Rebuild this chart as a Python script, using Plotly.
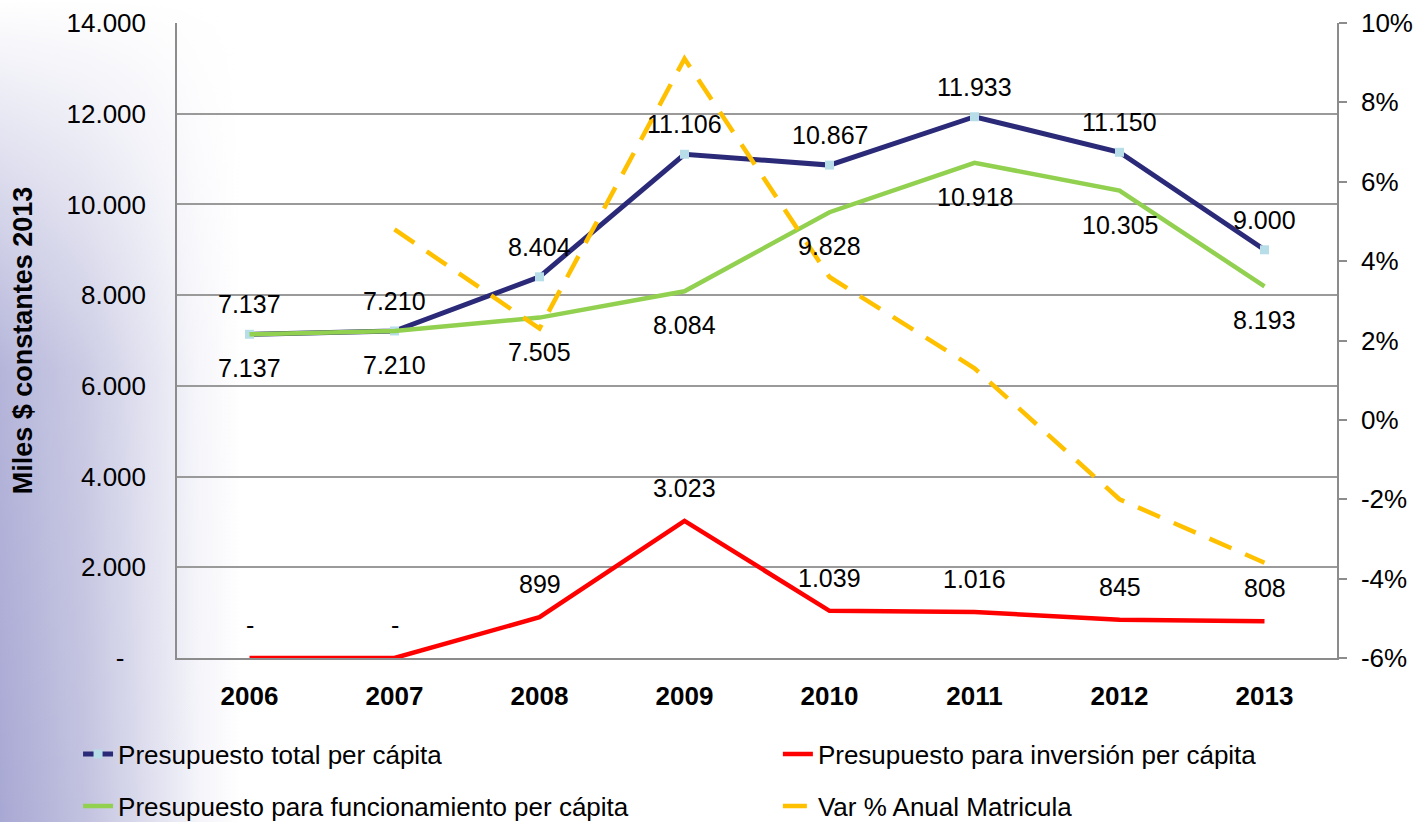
import base64

import plotly.graph_objects as go

years = ["2006", "2007", "2008", "2009", "2010", "2011", "2012", "2013"]
total = [7137, 7210, 8404, 11106, 10867, 11933, 11150, 9000]
funcionamiento = [7137, 7210, 7505, 8084, 9828, 10918, 10305, 8193]
inversion = [0, 0, 899, 3023, 1039, 1016, 845, 808]
var_matricula = [None, 4.8, 2.3, 9.1, 3.6, 1.3, -2.0, -3.6]

left_ticks = [0, 2000, 4000, 6000, 8000, 10000, 12000, 14000]
left_labels = ["-\u00a0\u00a0\u00a0", "2.000", "4.000", "6.000", "8.000", "10.000", "12.000", "14.000"]
right_ticks = [-6, -4, -2, 0, 2, 4, 6, 8, 10]
right_labels = ["-6%", "-4%", "-2%", "0%", "2%", "4%", "6%", "8%", "10%"]

FONT = "Arial, Liberation Sans, sans-serif"
NAVY = "#2B2A78"
GREEN = "#92D050"
RED = "#FF0000"
ORANGE = "#FFC000"


def fmt(v):
    return "-" if v == 0 else f"{v:,}".replace(",", ".")


# soft bluish backdrop on the left, like the slide template
svg = """<svg xmlns='http://www.w3.org/2000/svg' width='1416' height='822' preserveAspectRatio='none'>
<defs>
<linearGradient id='h' x1='0' y1='0' x2='1' y2='0'>
<stop offset='0' stop-color='#A8A8D4'/>
<stop offset='0.06' stop-color='#C2C2E0'/>
<stop offset='0.14' stop-color='#F4F4FA'/>
<stop offset='0.17' stop-color='#FFFFFF'/>
<stop offset='1' stop-color='#FFFFFF'/>
</linearGradient>
<linearGradient id='v' x1='0' y1='0' x2='0' y2='1'>
<stop offset='0' stop-color='#FFFFFF' stop-opacity='1'/>
<stop offset='0.45' stop-color='#FFFFFF' stop-opacity='0.15'/>
<stop offset='1' stop-color='#FFFFFF' stop-opacity='0'/>
</linearGradient>
</defs>
<rect width='1416' height='822' fill='url(#h)'/>
<rect width='1416' height='822' fill='url(#v)'/>
</svg>"""
bg_src = "data:image/svg+xml;base64," + base64.b64encode(svg.encode()).decode()

fig = go.Figure()

fig.add_trace(go.Scatter(
    x=years, y=total, name="Presupuesto total per cápita",
    mode="lines+markers", line=dict(color=NAVY, width=5),
    marker=dict(symbol="square", size=9, color="#B7DEE8"),
    legend="legend",
))
fig.add_trace(go.Scatter(
    x=years, y=inversion, name="Presupuesto para inversión per cápita",
    mode="lines", line=dict(color=RED, width=4.5),
    legend="legend2",
))
fig.add_trace(go.Scatter(
    x=years, y=funcionamiento, name="Presupuesto para funcionamiento per cápita",
    mode="lines", line=dict(color=GREEN, width=4.5),
    legend="legend3",
))
fig.add_trace(go.Scatter(
    x=years, y=var_matricula, name="Var % Anual Matricula", yaxis="y2",
    mode="lines", line=dict(color=ORANGE, width=4.5, dash="24px,15px"),
    connectgaps=False, legend="legend4",
))

annotations = []
for series, shift in ((total, 30), (funcionamiento, -34), (inversion, 33)):
    for i, v in enumerate(series):
        annotations.append(dict(
            x=i, y=v, xref="x", yref="y", text=fmt(v), showarrow=False,
            yshift=shift, font=dict(family=FONT, size=25, color="black"),
        ))


def legend_box(x, y):
    return dict(
        orientation="h", xanchor="left", yanchor="middle", x=x, y=y,
        xref="paper", yref="container", bgcolor="rgba(0,0,0,0)",
        font=dict(family=FONT, size=26, color="black"),
    )


fig.update_layout(
    width=1416, height=822,
    margin=dict(l=177, r=79, t=23, b=164),
    paper_bgcolor="white", plot_bgcolor="white",
    font=dict(family=FONT, color="black"),
    showlegend=True,
    annotations=annotations,
    images=[dict(
        source=bg_src, xref="paper", yref="paper",
        x=-177 / 1160, y=1 + 23 / 635, sizex=1416 / 1160, sizey=822 / 635,
        xanchor="left", yanchor="top", sizing="stretch", layer="below",
    )],
    legend=legend_box(-0.0853, 1 - 754 / 822),
    legend2=legend_box(0.518, 1 - 754 / 822),
    legend3=legend_box(-0.0853, 1 - 806 / 822),
    legend4=legend_box(0.518, 1 - 806 / 822),
    xaxis=dict(
        type="category", range=[-0.5, 7.5], showgrid=False, automargin=False,
        showline=True, linecolor="#8C8C8C", linewidth=1.5,
        ticks="", ticklabelstandoff=14,
        tickfont=dict(family=FONT, size=26, color="black", weight="bold"),
    ),
    yaxis=dict(
        range=[0, 14000], tickvals=left_ticks, ticktext=left_labels,
        showgrid=True, gridcolor="#9A9A9A", gridwidth=1.5, automargin=False,
        showline=True, linecolor="#8C8C8C", linewidth=1.5,
        ticks="", ticklabelstandoff=24, zeroline=False,
        tickfont=dict(family=FONT, size=26, color="black"),
        title=dict(text="Miles $ constantes 2013", standoff=26,
                   font=dict(family=FONT, size=27, color="black", weight="bold")),
    ),
    yaxis2=dict(
        overlaying="y", side="right", range=[-6, 10], automargin=False,
        tickvals=right_ticks, ticktext=right_labels,
        showgrid=False, zeroline=False,
        showline=True, linecolor="#8C8C8C", linewidth=1.5,
        ticks="outside", ticklen=8, tickcolor="#8C8C8C", tickwidth=1.5,
        ticklabelstandoff=9,
        tickfont=dict(family=FONT, size=26, color="black"),
    ),
)

fig.write_html(
    "out.html",
    config={"displayModeBar": False},
    post_script="document.body.style.margin='0';",
)
